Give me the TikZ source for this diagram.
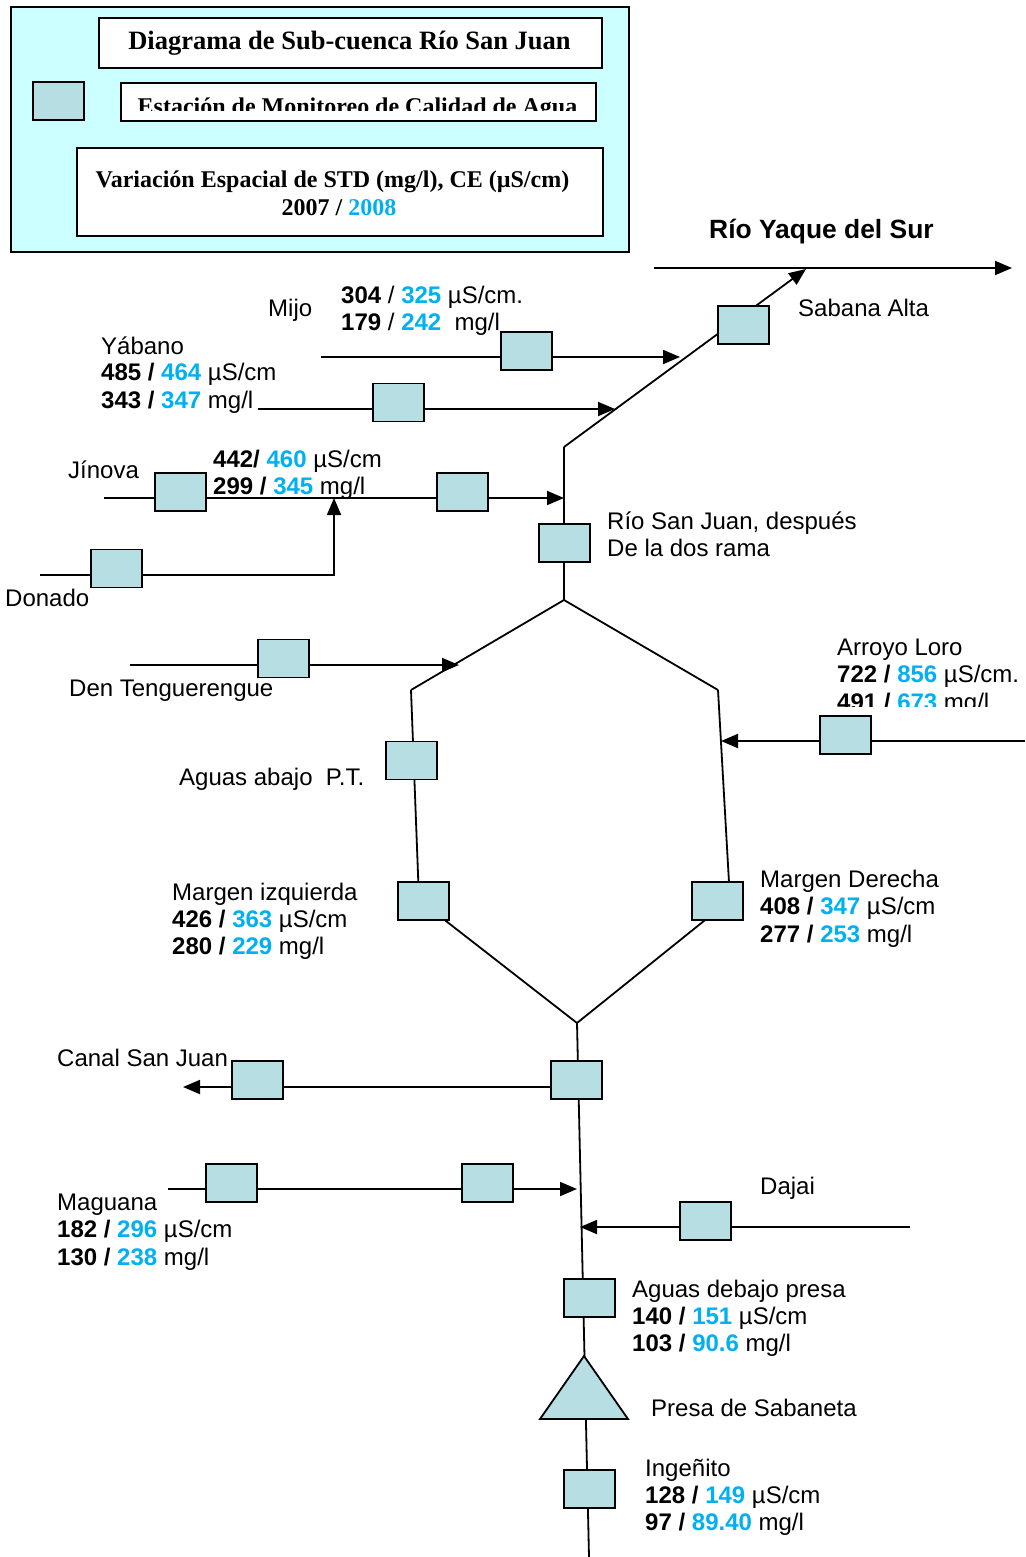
\documentclass[tikz,border=0pt]{standalone}
\usepackage{fontspec}
\setmainfont{Liberation Sans}
\newfontfamily\tnr{Liberation Serif}
\usetikzlibrary{arrows.meta}
\definecolor{azulc}{RGB}{0,176,240}
\definecolor{stfill}{RGB}{183,222,226}
\definecolor{legbg}{RGB}{204,255,255}
\newcommand\azul[1]{\textcolor{azulc}{#1}}
\pgfdeclarelayer{bg}\pgfsetlayers{bg,main}
\begin{document}
\begin{tikzpicture}[x=1pt,y=-1pt,
  station/.style={draw, fill=stfill, line width=1.8pt, minimum width=51pt, minimum height=38pt, inner sep=0pt},
  lbl/.style={anchor=base west, inner sep=0pt, font=\fontsize{24}{27}\selectfont},
  river/.style={line width=1.8pt},
  flow/.style={river, -{Triangle[length=17pt,width=14pt]}},
  legbox/.style={draw, line width=1.8pt, anchor=north west, inner sep=0pt},
  legtxt/.style={anchor=base, inner sep=0pt, font=\tnr\bfseries\fontsize{24}{27}\selectfont}]
\useasboundingbox (0,0) rectangle (1025,1557);

% ---------- Legend ----------
\node[legbox, fill=legbg, minimum width=618pt, minimum height=245pt] (legend) at (10,6) {};
\node[legbox, fill=white, minimum width=503pt, minimum height=50pt] (ttlbox) at (98,17) {};
\node[legtxt, font=\tnr\bfseries\fontsize{26.5}{30}\selectfont] (ttl) at (349.5,50) {Diagrama de Sub-cuenca Río San Juan};
\node[station] (legst) at (58.5,101) {};
\node[legbox, fill=white, minimum width=475pt, minimum height=38pt] (estbox) at (120,82) {};
\begin{scope}
\clip (120,82) rectangle (595,111);
\node[legtxt] (est) at (357.5,115) {Estación de Monitoreo de Calidad de Agua};
\end{scope}
\node[legbox, fill=white, minimum width=526pt, minimum height=88pt] (varbox) at (76,147) {};
\node[legtxt] (var1) at (332.5,188) {Variación Espacial de STD (mg/l), CE (µS/cm)};
\node[legtxt] (var2) at (339,215) {2007 / \azul{2008}};

% ---------- Coordinates ----------
\coordinate (yaqS) at (654,268);
\coordinate (yaqE) at (1012,268);
\coordinate (J1) at (564,447);
\coordinate (sabT) at (806,269);
\coordinate (mijS) at (321,357);
\coordinate (mijE) at (680,357);
\coordinate (yabS) at (258,409);
\coordinate (yabE) at (615,409);
\coordinate (jinS) at (104,498);
\coordinate (jinE) at (564,498);
\coordinate (donS) at (40,575);
\coordinate (donC) at (334,575);
\coordinate (donE) at (334,498);
\coordinate (J2) at (564,600);
\coordinate (L1) at (411,690);
\coordinate (L2) at (419,900);
\coordinate (R1) at (718,690);
\coordinate (R2) at (730,900);
\coordinate (denS) at (130,665);
\coordinate (denE) at (459,665);
\coordinate (lorS) at (1025,741);
\coordinate (lorE) at (721,741);
\coordinate (J3) at (577,1023);
\coordinate (bot) at (589,1557);
\coordinate (canS) at (577,1087);
\coordinate (canE) at (183,1087);
\coordinate (magS) at (168,1189);
\coordinate (magE) at (577,1189);
\coordinate (dajS) at (910,1227);
\coordinate (dajE) at (580,1227);

% ---------- Rivers ----------
\begin{pgfonlayer}{bg}
\draw[flow] (yaqS) -- (yaqE);
\draw[river] (J2) -- (J1);
\draw[flow] (J1) -- (sabT);
\draw[flow] (mijS) -- (mijE);
\draw[flow] (yabS) -- (yabE);
\draw[flow] (jinS) -- (jinE);
\draw[flow] (donS) -- (donC) -- (donE);
\draw[river] (L1) -- (J2) -- (R1);
\draw[river] (L1) -- (L2) -- (J3);
\draw[river] (R1) -- (R2) -- (J3);
\draw[flow] (denS) -- (denE);
\draw[flow] (lorS) -- (lorE);
\draw[river] (J3) -- (bot);
\draw[flow] (canS) -- (canE);
\draw[flow] (magS) -- (magE);
\draw[flow] (dajS) -- (dajE);
\end{pgfonlayer}

% ---------- Stations ----------
\node[station] (sab) at (743.5,325) {};
\node[station] (mij) at (526.5,351) {};
\node[station] (yab) at (398.5,402.5) {};
\node[station] (jin1) at (180.5,492) {};
\node[station] (jin2) at (462.5,492) {};
\node[station] (don) at (116.5,568.5) {};
\node[station] (rsj) at (564.5,543) {};
\node[station] (den) at (283.5,658.5) {};
\node[station] (lor) at (845.5,735) {};
\node[station] (apt) at (411.5,760.5) {};
\node[station] (mizq) at (423.5,901) {};
\node[station] (mder) at (717.5,901) {};
\node[station] (can2) at (576.5,1080) {};
\node[station] (can1) at (257.5,1080) {};
\node[station] (mag1) at (231.5,1183) {};
\node[station] (mag2) at (487.5,1183) {};
\node[station] (daj) at (705.5,1221) {};
\node[station] (adp) at (589.5,1298) {};
\draw[fill=stfill, line width=1.8pt] (584,1356) coordinate (presa) -- (628,1419) -- (540,1419) -- cycle;
\node[station] (ing) at (589.5,1489) {};

% ---------- Labels ----------
\node[lbl, font=\bfseries\fontsize{26.4}{30}\selectfont] (t-yaq) at (709,238) {Río Yaque del Sur};
\node[lbl] (t-sab) at (798,316) {Sabana Alta};
\node[lbl] (t-mij) at (268,316) {Mijo};
\node[lbl] (t-mij1) at (341,303) {\textbf{304} / \textbf{\azul{325}} µS/cm.};
\node[lbl] (t-mij2) at (341,330) {\textbf{179} / \textbf{\azul{242}}\ \ mg/l};
\node[lbl] (t-yab) at (101,354) {Yábano};
\node[lbl] (t-yab1) at (101,380) {\textbf{485 / \azul{464}} µS/cm};
\node[lbl] (t-yab2) at (101,408) {\textbf{343 / \azul{347}} mg/l};
\node[lbl] (t-jin) at (68,478) {Jínova};
\node[lbl] (t-jin1) at (213,467) {\textbf{442/ \azul{460}} µS/cm};
\begin{scope}
\clip (200,470) rectangle (420,496);
\node[lbl] (t-jin2) at (213,494) {\textbf{299 / \azul{345}} mg/l};
\end{scope}
\node[lbl] (t-don) at (5,606) {Donado};
\node[lbl] (t-rsj1) at (607,529) {Río San Juan, después};
\node[lbl] (t-rsj2) at (607,556) {De la dos rama};
\node[lbl] (t-den) at (69,696) {Den Tenguerengue};
\node[lbl] (t-lor) at (837,655) {Arroyo Loro};
\node[lbl] (t-lor1) at (837,682) {\textbf{722 / \azul{856}} µS/cm.};
\begin{scope}
\clip (830,684) rectangle (1025,706);
\node[lbl] (t-lor2) at (837,710) {\textbf{491 / \azul{673}} mg/l};
\end{scope}
\node[lbl] (t-apt) at (179,785) {Aguas abajo\ \ P.T.};
\node[lbl] (t-mizq) at (172,900) {Margen izquierda};
\node[lbl] (t-mizq1) at (172,927) {\textbf{426 / \azul{363}} µS/cm};
\node[lbl] (t-mizq2) at (172,954) {\textbf{280 / \azul{229}} mg/l};
\node[lbl] (t-mder) at (760,887) {Margen Derecha};
\node[lbl] (t-mder1) at (760,914) {\textbf{408 / \azul{347}} µS/cm};
\node[lbl] (t-mder2) at (760,942) {\textbf{277 / \azul{253}} mg/l};
\node[lbl] (t-can) at (57,1066) {Canal San Juan};
\node[lbl] (t-mag) at (57,1210) {Maguana};
\node[lbl] (t-mag1) at (57,1237) {\textbf{182 / \azul{296}} µS/cm};
\node[lbl] (t-mag2) at (57,1265) {\textbf{130 / \azul{238}} mg/l};
\node[lbl] (t-daj) at (760,1194) {Dajai};
\node[lbl] (t-adp) at (632,1297) {Aguas debajo presa};
\node[lbl] (t-adp1) at (632,1324) {\textbf{140 / \azul{151}} µS/cm};
\node[lbl] (t-adp2) at (632,1351) {\textbf{103 / \azul{90.6}} mg/l};
\node[lbl] (t-presa) at (651,1416) {Presa de Sabaneta};
\node[lbl] (t-ing) at (645,1476) {Ingeñito};
\node[lbl] (t-ing1) at (645,1503) {\textbf{128 / \azul{149}} µS/cm};
\node[lbl] (t-ing2) at (645,1530) {\textbf{97 / \azul{89.40}} mg/l};
\end{tikzpicture}
\end{document}
